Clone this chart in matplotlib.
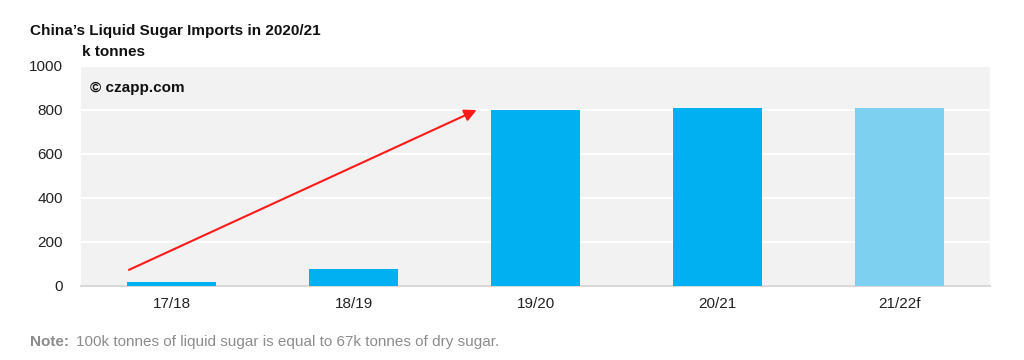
import matplotlib.pyplot as plt

plt.rcParams['font.family'] = ['Liberation Sans', 'DejaVu Sans']

# 数据
seasons = ['17/18', '18/19', '19/20', '20/21', '21/22f']
imports = [20, 78, 800, 808, 808]
colors = ['#00b0f0', '#00b0f0', '#00b0f0', '#00b0f0', '#7dd0f0']

fig = plt.figure(figsize=(10.24, 3.6), dpi=100)
ax = fig.add_axes([0.0791, 0.2056, 0.8877, 0.6111])
ax.set_facecolor('#f2f2f2')

x = range(len(seasons))
ax.bar(x, imports, width=0.49, color=colors, zorder=3)

ax.set_xlim(-0.5, len(seasons) - 0.5)
ax.set_ylim(0, 1000)
ax.set_yticks(range(0, 1001, 200))
ax.set_xticks(list(x))
ax.set_xticklabels(seasons)
ax.grid(axis='y', color='white', linewidth=1.5, zorder=1)
ax.tick_params(axis='both', length=0, labelsize=11, colors='#222222')
ax.tick_params(axis='x', pad=8)
ax.tick_params(axis='y', pad=13)
for s in ['top', 'right', 'left']:
    ax.spines[s].set_visible(False)
ax.spines['bottom'].set_color('#d9d9d9')
ax.spines['bottom'].set_linewidth(1.5)

# 红色箭头
ax.annotate('', xy=(1.69, 805), xytext=(-0.25, 68),
            arrowprops=dict(arrowstyle='-|>', color='#ff1a1a', lw=1.5,
                            mutation_scale=18), zorder=4)

ax.text(0.01, 0.9, '© czapp.com', transform=ax.transAxes, fontsize=11,
        fontweight='bold', va='center', ha='left', color='#111111')

fig.text(0.029, 0.915, 'China\u2019s Liquid Sugar Imports in 2020/21', fontsize=11,
         fontweight='bold', va='center', ha='left', color='#111111')
fig.text(0.08, 0.855, 'k tonnes', fontsize=11, fontweight='bold',
         va='center', ha='left', color='#111111')

fig.text(0.029, 0.05, 'Note:', fontsize=11, fontweight='bold',
         va='center', ha='left', color='#8c8c8c')
fig.text(0.074, 0.05, '100k tonnes of liquid sugar is equal to 67k tonnes of dry sugar.',
         fontsize=11, va='center', ha='left', color='#8c8c8c')

fig.savefig('out.png', dpi=100)
